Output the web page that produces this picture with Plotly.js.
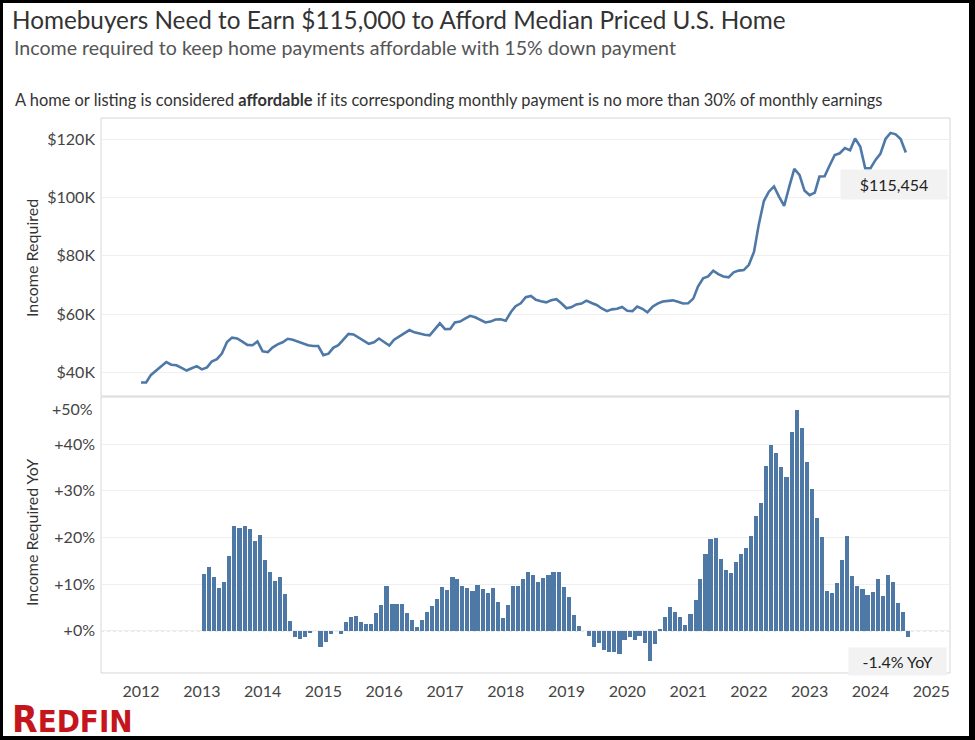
<!DOCTYPE html>
<html><head><meta charset="utf-8">
<script src="https://cdn.plot.ly/plotly-3.0.1.min.js"></script>
<style>html,body{margin:0;padding:0;background:#fff;} #chart{width:975px;height:740px;}</style>
</head><body><div id="chart"></div>
<script>
// ---------------- DATA ----------------
const chartTitle = 'Homebuyers Need to Earn $115,000 to Afford Median Priced U.S. Home';
const chartSubtitle = 'Income required to keep home payments affordable with 15% down payment';
const chartNote = 'A home or listing is considered <b>affordable</b> if its corresponding monthly payment is no more than 30% of monthly earnings';
const incomeAxisTitle = 'Income Required';
const yoyAxisTitle = 'Income Required YoY';

// Monthly income required (USD), Jan 2012 - Aug 2024
const incomeStart = [2012, 1];
const incomeRequired = [
  36500, 36500, 39100, 40600, 42100, 43500, 42600, 42400, 41500, 40600, 41400, 42100,
  41000, 41700, 43700, 44500, 46400, 50400, 51900, 51600, 50500, 49400, 49300, 50600,
  47200, 46900, 48500, 49600, 50300, 51500, 51200, 50600, 49800, 49300, 49000, 49000,
  45900, 46400, 48400, 49300, 51200, 53200, 53000, 51900, 50700, 49800, 50300, 51600,
  50400, 49200, 51200, 52300, 53200, 54500, 53700, 53200, 52900, 52700, 54800, 56800,
  54800, 54900, 57100, 57400, 58400, 59400, 58900, 58000, 57100, 57400, 58100, 58200,
  57700, 60700, 62700, 63700, 65800, 66200, 64900, 64400, 64000, 64700, 65100, 63700,
  62000, 62400, 63300, 63600, 64600, 63800, 63100, 61900, 61000, 61600, 61800, 62400,
  61100, 61000, 62600, 61800, 60600, 62500, 63600, 64300, 64500, 64700, 64200, 63600,
  63700, 65300, 69400, 72300, 72900, 74900, 73700, 72900, 72600, 74300, 74900, 75100,
  76900, 81400, 90600, 98800, 102000, 103800, 100300, 97100, 103800, 109800, 107800, 102400,
  100800, 101700, 107200, 107300, 111000, 114600, 115200, 117000, 116200, 120300, 117500, 110000,
  110000, 112900, 115000, 120100, 122200, 121700, 120100, 115454
];

// Year-over-year change (%), Jan 2013 - Aug 2024
const yoyStart = [2013, 1];
const incomeYoY = [
  12.2, 13.6, 11.6, 9.1, 10.4, 16.1, 22.4, 22.1, 22.4, 21.9, 19.2, 20.5,
  15.1, 12.7, 10.6, 11.6, 7.9, 2.1, -1.4, -1.8, -1.3, -0.4, 0.0, -3.4,
  -2.4, -0.7, 0.0, -0.8, 1.9, 2.9, 3.1, 1.9, 1.5, 1.5, 3.7, 5.6,
  9.5, 5.8, 5.8, 5.8, 3.7, 2.4, 0.7, 2.4, 4.1, 5.2, 6.9, 9.4,
  8.7, 11.6, 11.0, 9.5, 9.1, 8.5, 9.9, 8.9, 8.1, 9.1, 6.2, 2.7,
  5.6, 9.5, 9.5, 11.0, 12.5, 12.0, 10.4, 11.4, 12.0, 12.7, 12.5, 9.4,
  7.2, 3.3, 1.0, 0.0, -1.1, -3.4, -2.6, -4.1, -4.5, -4.6, -5.0, -2.0,
  -1.3, -2.1, -1.1, -2.7, -6.4, -2.9, 0.3, 3.0, 5.1, 4.1, 2.9, 1.2,
  3.5, 6.6, 11.1, 16.4, 19.6, 19.9, 15.4, 13.1, 12.3, 14.7, 16.4, 17.7,
  20.4, 24.7, 27.3, 35.4, 39.8, 38.2, 35.1, 32.9, 42.6, 47.3, 43.4, 36.1,
  30.4, 24.2, 20.0, 8.6, 8.0, 10.3, 15.2, 20.4, 11.7, 9.6, 9.0, 7.6,
  8.4, 11.1, 7.4, 12.0, 10.4, 6.0, 4.1, -1.4
];

// Tick labels
const yearTicks = [2012, 2013, 2014, 2015, 2016, 2017, 2018, 2019, 2020, 2021, 2022, 2023, 2024, 2025];
const incomeTickVals = [40000, 60000, 80000, 100000, 120000];
const incomeTickText = ['$40K', '$60K', '$80K', '$100K', '$120K'];
const yoyTickVals = [0, 10, 20, 30, 40, 50];
const yoyTickText = ['+0%', '+10%', '+20%', '+30%', '+40%', '+50%'];
const brand = 'REDFIN';

// ---------------- HELPERS ----------------
const W = 975, H = 740;
const px = v => v / W;
const py = v => 1 - v / H;
function monthDates(start, n, day) {
  const out = [];
  let y = start[0], m = start[1];
  for (let i = 0; i < n; i++) {
    out.push(y + '-' + String(m).padStart(2, '0') + '-' + String(day).padStart(2, '0'));
    m++; if (m > 12) { m = 1; y++; }
  }
  return out;
}
const incomeDates = monthDates(incomeStart, incomeRequired.length, 1);
const yoyDates = monthDates(yoyStart, incomeYoY.length, 15);

const DAY = 864e5, YR = 365.25 * DAY;
const t2012 = Date.UTC(2012, 0, 1);
const xRange = [t2012 - 0.658 * YR, t2012 + 13.31 * YR];

const BLUE = '#4e79a7';
const FONT = 'Lato, "Noto Sans", sans-serif';
const lastIncome = incomeRequired[incomeRequired.length - 1];
const lastYoY = incomeYoY[incomeYoY.length - 1];

// ---------------- TRACES ----------------
const traces = [
  {
    type: 'scatter', mode: 'lines', x: incomeDates, y: incomeRequired,
    xaxis: 'x', yaxis: 'y',
    line: {color: BLUE, width: 2.6, shape: 'linear'},
    hoverinfo: 'x+y', showlegend: false
  },
  {
    type: 'bar', x: yoyDates, y: incomeYoY,
    xaxis: 'x', yaxis: 'y2',
    width: 25 * DAY,
    marker: {color: BLUE, line: {width: 0}},
    showlegend: false
  }
];

// ---------------- LAYOUT ----------------
const paneTop = [118, 396], paneBot = [397, 673], paneX = [101, 950];
const borderColor = '#d6d6d6';

const shapes = [
  {type: 'line', xref: 'paper', yref: 'y2', x0: px(paneX[0]), x1: px(paneX[1]), y0: 0, y1: 0,
   line: {color: '#8a8a8a', width: 1, dash: 'dot'}, layer: 'below'},
  {type: 'rect', xref: 'paper', yref: 'paper', x0: px(paneX[0]), x1: px(paneX[1]), y0: py(paneTop[1]), y1: py(paneTop[0]),
   line: {color: borderColor, width: 1}, layer: 'below'},
  {type: 'rect', xref: 'paper', yref: 'paper', x0: px(paneX[0]), x1: px(paneX[1]), y0: py(paneBot[1]), y1: py(paneBot[0]),
   line: {color: borderColor, width: 1}, layer: 'below'},
  // black frame
  {type: 'rect', xref: 'paper', yref: 'paper', x0: 0, x1: 1, y0: py(3), y1: 1, fillcolor: '#000', line: {width: 0}},
  {type: 'rect', xref: 'paper', yref: 'paper', x0: 0, x1: px(3), y0: 0, y1: 1, fillcolor: '#000', line: {width: 0}},
  {type: 'rect', xref: 'paper', yref: 'paper', x0: px(969), x1: 1, y0: 0, y1: 1, fillcolor: '#000', line: {width: 0}},
  {type: 'rect', xref: 'paper', yref: 'paper', x0: 0, x1: 1, y0: 0, y1: py(736), fillcolor: '#000', line: {width: 0}}
];

const tickFont = {family: FONT, size: 16, color: '#444'};

const annotations = [
  {xref: 'paper', yref: 'paper', x: px(12), y: py(47), xanchor: 'left', yanchor: 'middle', showarrow: false,
   text: chartSubtitle, font: {family: FONT, size: 19.6, color: '#555'}},
  {xref: 'paper', yref: 'paper', x: px(13), y: py(100), xanchor: 'left', yanchor: 'middle', showarrow: false,
   text: chartNote, font: {family: FONT, size: 16.4, color: '#333'}},
  {xref: 'paper', yref: 'paper', x: px(31), y: py(258), xanchor: 'center', yanchor: 'middle', showarrow: false,
   textangle: -90, text: incomeAxisTitle, font: {family: FONT, size: 16, color: '#333'}},
  {xref: 'paper', yref: 'paper', x: px(31), y: py(533), xanchor: 'center', yanchor: 'middle', showarrow: false,
   textangle: -90, text: yoyAxisTitle, font: {family: FONT, size: 16, color: '#333'}},
  // top tick label of YoY axis (pulled inside the pane, as in the original)
  {xref: 'paper', yref: 'y2', x: px(95), y: yoyTickVals[yoyTickVals.length - 1], yshift: -11,
   xanchor: 'right', yanchor: 'middle', showarrow: false,
   text: yoyTickText[yoyTickText.length - 1], font: tickFont},
  // last value labels
  {xref: 'x', yref: 'y', x: incomeDates[incomeDates.length - 1], y: lastIncome, xshift: -12, yshift: -32,
   xanchor: 'center', yanchor: 'middle', showarrow: false, width: 104, height: 27, bgcolor: '#f2f2f2',
   text: '$' + lastIncome.toLocaleString('en-US'), font: {family: FONT, size: 16, color: '#222'}},
  {xref: 'x', yref: 'y2', x: yoyDates[yoyDates.length - 1], y: lastYoY, xshift: -11, yshift: -10,
   xanchor: 'center', yanchor: 'top', showarrow: false, width: 95, height: 25, bgcolor: '#f2f2f2',
   text: lastYoY.toFixed(1) + '% YoY', font: {family: FONT, size: 16, color: '#222'}},
  // logo
  {xref: 'paper', yref: 'paper', x: px(10), y: py(719), xanchor: 'left', yanchor: 'middle', showarrow: false,
   text: '<span style="font-size:37px">' + brand.charAt(0) + '</span>' + brand.slice(1),
   font: {family: '"Liberation Sans Narrow", "DejaVu Sans Condensed", Roboto, sans-serif', size: 31, color: '#c4161c', weight: 'bold'}}
];

const layout = {
  width: W, height: H,
  margin: {l: 0, r: 0, t: 0, b: 0},
  paper_bgcolor: '#fff', plot_bgcolor: 'rgba(0,0,0,0)',
  font: {family: FONT, color: '#333'},
  title: {text: chartTitle, x: px(12), xref: 'paper', xanchor: 'left', y: py(20), yref: 'paper', yanchor: 'middle',
          font: {family: FONT, size: 24.3, color: '#333'}},
  showlegend: false,
  bargap: 0,
  xaxis: {
    type: 'date', domain: [px(paneX[0]), px(paneX[1])], anchor: 'y2', range: xRange,
    tickmode: 'array', tickvals: yearTicks.map(y => y + '-01-01'), ticktext: yearTicks.map(String),
    showgrid: false, zeroline: false, showline: false, ticks: '', tickfont: tickFont, fixedrange: true,
    ticklabelstandoff: 7
  },
  yaxis: {
    domain: [py(paneTop[1]), py(paneTop[0])], anchor: 'x', range: [31860, 127300],
    tickmode: 'array', tickvals: incomeTickVals, ticktext: incomeTickText,
    showgrid: true, gridcolor: '#efefef', gridwidth: 1, zeroline: false, showline: false, ticks: '',
    tickfont: tickFont, ticklabelstandoff: 5
  },
  yaxis2: {
    domain: [py(paneBot[1]), py(paneBot[0])], anchor: 'x', range: [-9.08, 50.15],
    tickmode: 'array', tickvals: yoyTickVals.slice(0, -1), ticktext: yoyTickText.slice(0, -1),
    showgrid: true, gridcolor: '#efefef', gridwidth: 1, zeroline: false, showline: false, ticks: '',
    tickfont: tickFont, ticklabelstandoff: 5
  },
  shapes: shapes,
  annotations: annotations
};

Plotly.newPlot('chart', traces, layout, {displayModeBar: false, staticPlot: true});
</script>
</body></html>
